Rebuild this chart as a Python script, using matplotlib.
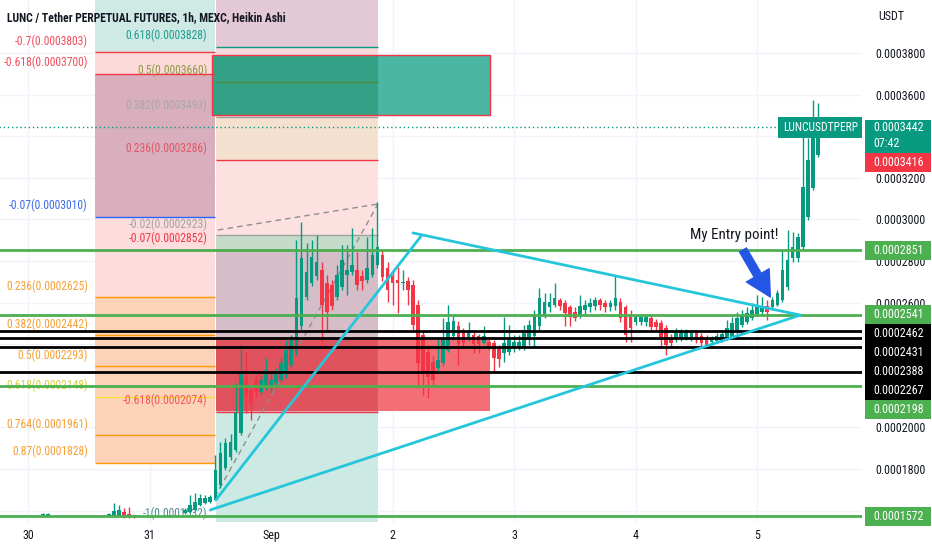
import numpy as np
import matplotlib
matplotlib.use("Agg")
import matplotlib.pyplot as plt
from matplotlib import font_manager as fm
from matplotlib.patches import Rectangle
from matplotlib.transforms import blended_transform_factory

U = 1e-7  # all price values below are in units of 0.0000001 USDT

# ---------------- data (hourly Heikin Ashi candles, hours from 30 Aug 00:00) ----------------
candle_hours = [3, 4, 16, 17, 18, 19, 20, 21] + list(range(31, 157))
opens = [1574, 1574, 1574, 1569, 1569, 1593, 1584, 1579,
         1589, 1593, 1603, 1627, 1637, 1641, 1651, 1723, 1805, 1857,
         1891, 1973, 2243, 2180, 2228, 2170, 2194, 2194, 2214, 2228,
         2252, 2300, 2358, 2487, 2627, 2694, 2728, 2757, 2694, 2685,
         2627, 2675, 2733, 2747, 2757, 2728, 2709, 2733, 2781, 2829,
         2766, 2728, 2709, 2694, 2704, 2685, 2588, 2444, 2362, 2315,
         2286, 2310, 2372, 2439, 2487, 2454, 2430, 2444, 2439, 2406,
         2410, 2406, 2386, 2358, 2362, 2382, 2382, 2386, 2420, 2439,
         2487, 2540, 2579, 2588, 2612, 2598, 2579, 2554, 2540, 2564,
         2579, 2583, 2612, 2598, 2579, 2583, 2603, 2579, 2540, 2506,
         2506, 2506, 2526, 2506, 2502, 2478, 2434, 2430, 2430, 2430,
         2430, 2454, 2439, 2430, 2410, 2415, 2420, 2430, 2434, 2458,
         2492, 2506, 2526, 2545, 2554, 2583, 2579, 2588, 2612, 2675,
         2815, 2815, 2867, 3011, 3151, 3309]
highs = [1589, 1589, 1589, 1637, 1627, 1613, 1617, 1579,
         1613, 1675, 1685, 1680, 1675, 1675, 1867, 1929, 1949, 1968,
         2214, 2396, 2362, 2204, 2252, 2252, 2334, 2267, 2286, 2334,
         2420, 2444, 2901, 2987, 2886, 2901, 2925, 2795, 2733, 2709,
         2781, 2877, 2877, 2959, 2843, 2757, 2915, 2959, 3083, 2853,
         2795, 2757, 2771, 2757, 2723, 2709, 2612, 2468, 2396, 2348,
         2430, 2526, 2588, 2540, 2511, 2478, 2506, 2459, 2449, 2487,
         2420, 2420, 2396, 2530, 2492, 2444, 2444, 2492, 2516, 2564,
         2670, 2646, 2646, 2694, 2622, 2612, 2588, 2579, 2636, 2612,
         2622, 2627, 2622, 2612, 2612, 2728, 2622, 2588, 2564, 2540,
         2545, 2545, 2540, 2521, 2516, 2492, 2449, 2478, 2473, 2473,
         2468, 2468, 2454, 2444, 2439, 2454, 2468, 2516, 2530, 2554,
         2564, 2579, 2598, 2636, 2627, 2612, 2627, 2660, 2853, 2949,
         2939, 2934, 3396, 3392, 3574, 3560]
lows = [1569, 1569, 1569, 1569, 1569, 1564, 1564, 1564,
        1584, 1589, 1598, 1622, 1632, 1637, 1651, 1709, 1795, 1843,
        1881, 1963, 2069, 2035, 2141, 2156, 2180, 2170, 2204, 2218,
        2238, 2286, 2348, 2468, 2612, 2680, 2709, 2382, 2468, 2564,
        2612, 2660, 2636, 2733, 2660, 2660, 2694, 2723, 2766, 2704,
        2603, 2588, 2550, 2660, 2588, 2468, 2189, 2156, 2141, 2204,
        2267, 2295, 2362, 2420, 2300, 2382, 2415, 2358, 2358, 2401,
        2372, 2262, 2291, 2315, 2348, 2362, 2372, 2372, 2396, 2386,
        2468, 2526, 2554, 2579, 2564, 2487, 2487, 2511, 2526, 2545,
        2554, 2564, 2564, 2554, 2559, 2564, 2506, 2410, 2410, 2492,
        2492, 2487, 2468, 2459, 2386, 2348, 2386, 2410, 2415, 2420,
        2415, 2406, 2391, 2382, 2396, 2406, 2410, 2420, 2430, 2449,
        2482, 2497, 2516, 2535, 2545, 2516, 2564, 2583, 2603, 2660,
        2795, 2795, 2853, 2997, 3141, 3300]
closes = [1584, 1584, 1584, 1598, 1603, 1569, 1569, 1569,
          1603, 1627, 1641, 1661, 1661, 1666, 1795, 1877, 1925, 1929,
          2069, 2262, 2156, 2117, 2170, 2228, 2276, 2228, 2267, 2310,
          2372, 2420, 2622, 2815, 2747, 2819, 2795, 2588, 2554, 2583,
          2733, 2805, 2757, 2781, 2685, 2704, 2766, 2829, 2867, 2723,
          2660, 2694, 2694, 2699, 2660, 2492, 2310, 2262, 2243, 2228,
          2324, 2430, 2506, 2511, 2401, 2406, 2454, 2401, 2401, 2439,
          2386, 2334, 2329, 2406, 2420, 2410, 2410, 2468, 2492, 2540,
          2622, 2603, 2603, 2622, 2583, 2550, 2530, 2526, 2583, 2588,
          2598, 2612, 2588, 2579, 2598, 2622, 2526, 2444, 2478, 2530,
          2530, 2530, 2482, 2482, 2434, 2396, 2406, 2454, 2459, 2459,
          2454, 2420, 2406, 2396, 2430, 2439, 2449, 2478, 2502, 2526,
          2535, 2550, 2564, 2583, 2583, 2554, 2612, 2646, 2757, 2805,
          2867, 2915, 3155, 3285, 3396, 3442]

day_ticks = [0, 24, 48, 72, 96, 120, 144]
day_labels = ["30", "31", "Sep", "2", "3", "4", "5"]
price_ticks = [1600, 1800, 2000, 2200, 2400, 2600, 2800, 3000, 3200, 3400, 3600, 3800]
hidden_ticks = [2200, 2400, 3400]  # covered by the price-axis tags in the reference

# Fibonacci tool A (left) and B (middle)
fibA_span = (13.2, 36.9)
fibA_ratios = ["-0.7", "-0.618", "-0.07", "0.236", "0.382", "0.5", "0.618", "0.764", "0.87"]
fibA_prices = [3803, 3700, 3010, 2625, 2442, 2293, 2148, 1961, 1828]
fibA_colors = ["#f23645", "#f23645", "#2962ff", "#ff9800", "#ff9800", "#ff9800", "#f2e23a", "#ff9800", "#ff9800"]
fibA_text = ["#ef4f5e", "#ef4f5e", "#3d6be8", "#f5a033", "#f5a033", "#f5a033", "#d8cf3c", "#f5a033", "#f5a033"]

fibB_span = (37.1, 69.1)
fibB_ratios = ["0.618", "0.5", "0.382", "0.236", "-0.02", "-0.07", "-0.618", "-1"]
fibB_prices = [3828, 3660, 3493, 3286, 2923, 2852, 2074, 1532]
fibB_colors = ["#089981", "#4f8a3a", "#a0a0a0", "#f23645", "#a0a0a0", "#f23645", "#f23645", "#4a8a8a"]
fibB_text = ["#1e9e8a", "#8a9a40", "#a8a8a8", "#e0566a", "#a3a3a3", "#f23645", "#f0585e", "#4f8a8e"]

green_box = dict(hours=(36.3, 91.3), prices=(3500, 3790))
red_box = dict(hours=(37.1, 91.3), prices=(2078, 2420))

green_levels = [2851, 2541, 2198, 1572]
black_levels = [2462, 2431, 2388, 2267]

rise1 = ([37.1, 77.8], [1651, 2925])
fall1 = ([76.0, 152.5], [2935, 2540])
rise2 = ([36.0, 152.5], [1603, 2540])
dash1 = ([37.5, 69.1], [2949, 3074])
dash2 = ([36.9, 69.1], [1665, 3074])

arrow_tail = (141.2, 2853)
arrow_head = (146.6, 2627)
note_pos = (139.5, 2925)
note_text = "My Entry point!"

last_price = 3442
prev_price = 3416
countdown = "07:42"
symbol = "LUNCUSDTPERP"
title = "LUNC / Tether PERPETUAL FUTURES, 1h, MEXC, Heikin Ashi"

# ---------------- fonts ----------------
names = {f.name for f in fm.fontManager.ttflist}
FONT, FACT = "Liberation Sans", 1.0
for cand, fac in [("Roboto Condensed", 0.88), ("Liberation Sans Narrow", 0.82)]:
    if cand in names:
        FONT, FACT = cand, fac
        break
plt.rcParams["font.family"] = [FONT, "DejaVu Sans"]


def fs(x):
    return x / FACT


TXT = "#131722"

# ---------------- figure ----------------
fig = plt.figure(figsize=(9.32, 5.5), dpi=100)
fig.patch.set_facecolor("white")
ax = fig.add_axes([0, 28 / 550, 862 / 932, 522 / 550])
ax.set_facecolor("white")
YLO, YHI = 1545, 4055
ax.set_xlim(-5.53, 164.7)
ax.set_ylim(YLO * U, YHI * U)
for s in ax.spines.values():
    s.set_visible(False)
PPX = (YHI - YLO) / 522.0  # price units per pixel

for t in price_ticks:
    ax.axhline(t * U, color="#f0f3fa", lw=1, zorder=0.2)
for d in day_ticks:
    ax.axvline(d, color="#f0f3fa", lw=1, zorder=0.2)


def zone(h0, h1, p0, p1, color, z=0.5):
    ax.add_patch(Rectangle((h0, p0 * U), h1 - h0, (p1 - p0) * U,
                           facecolor=color, edgecolor="none", zorder=z))


a0, a1 = fibA_span
zone(a0, a1, fibA_prices[0], 4300, "#cfe9e5")
zone(a0, a1, fibA_prices[1], fibA_prices[0], "#fcdada")
zone(a0, a1, fibA_prices[2], fibA_prices[1], "#d9aebd")
zone(a0, a1, fibA_prices[3], fibA_prices[2], "#fcdcdc")
zone(a0, a1, fibA_prices[8], fibA_prices[3], "#fcd3b9")

b0, b1 = fibB_span
zone(b0, b1, fibB_prices[0], 4300, "#e3c9d5")
zone(b0, b1, fibB_prices[1], fibB_prices[0], "#f6d9dc")
zone(b0, b1, fibB_prices[2], fibB_prices[1], "#e6d3cf")
zone(b0, b1, fibB_prices[3], fibB_prices[2], "#f4e0cf")
zone(b0, b1, fibB_prices[4], fibB_prices[3], "#fde0e0")
zone(b0, b1, fibB_prices[5], fibB_prices[4], "#c7dbca")
zone(b0, b1, fibB_prices[6], fibB_prices[5], "#d6bec8")
zone(b0, b1, fibB_prices[7], fibB_prices[6], "#cde9e4")

gh, gp = green_box["hours"], green_box["prices"]
zone(gh[0], b1, gp[0], gp[1], "#33a185", z=1)
zone(b1, gh[1], gp[0], gp[1], "#4bb6a1", z=1)
ax.add_patch(Rectangle((gh[0], gp[0] * U), gh[1] - gh[0], (gp[1] - gp[0]) * U,
                       fill=False, edgecolor="#f23645", lw=1, zorder=1.2))
rh, rp = red_box["hours"], red_box["prices"]
zone(rh[0], b1, rp[0], rp[1], "#e0525e", z=1)
zone(b1, rh[1], rp[0], rp[1], "#f26f77", z=1)

# fib lines and labels
for r, p, c, tc in zip(fibA_ratios, fibA_prices, fibA_colors, fibA_text):
    ax.hlines(p * U, a0, a1, colors=c, lw=1, zorder=1.5)
    ax.annotate(f"{r}({p * U:.7f})", xy=(11.8, p * U), xytext=(0, 3.5),
                textcoords="offset points", ha="right", va="bottom",
                color=tc, fontsize=fs(7.4), zorder=2, annotation_clip=False)
for r, p, c, tc in zip(fibB_ratios, fibB_prices, fibB_colors, fibB_text):
    ax.hlines(p * U, b0, b1, colors=c, lw=1, zorder=1.5)
    ax.annotate(f"{r}({p * U:.7f})", xy=(35.4, p * U), xytext=(0, 3.5),
                textcoords="offset points", ha="right", va="bottom",
                color=tc, fontsize=fs(7.4), zorder=2, annotation_clip=False)

for xs, ys in (dash1, dash2):
    ax.plot(xs, np.array(ys) * U, ls=(0, (4, 3)), color="#8f8f8f", lw=1, zorder=2)

# candles
hrs = np.array(candle_hours, dtype=float)
o = np.array(opens) * U
h = np.array(highs) * U
l = np.array(lows) * U
c = np.array(closes) * U
up = c >= o
cols = np.where(up, "#089981", "#f23645")
ax.vlines(hrs, l, h, colors=cols, lw=1, zorder=3)
body_b = np.minimum(o, c)
body_h = np.maximum(np.abs(c - o), 1.5 * PPX * U)
ax.bar(hrs, body_h, bottom=body_b, width=0.72, color=cols, edgecolor="none", zorder=3.1)

# horizontal levels
for p in green_levels:
    ax.axhline(p * U, color="#4caf50", lw=2, zorder=4)
for p in black_levels:
    ax.axhline(p * U, color="#000000", lw=2, zorder=4)

# current price dotted line
ax.hlines(last_price * U, -6, 148.5, colors="#089981", lw=1, linestyles=(0, (1, 2)), zorder=4)

# triangle trendlines
for xs, ys in (rise1, fall1, rise2):
    ax.plot(xs, np.array(ys) * U, color="#26c6da", lw=2, zorder=5, solid_capstyle="round")

# entry arrow & note
ax.annotate("", xy=(arrow_head[0], arrow_head[1] * U), xytext=(arrow_tail[0], arrow_tail[1] * U),
            arrowprops=dict(arrowstyle="simple,head_length=1.0,head_width=1.05,tail_width=0.32",
                            color="#2456e6", mutation_scale=18, shrinkA=0, shrinkB=0), zorder=6)
ax.text(note_pos[0], note_pos[1] * U, note_text, ha="center", va="center",
        fontsize=fs(9.5), color=TXT, zorder=6)

# axes ticks
ax.set_xticks(day_ticks)
ax.set_xticklabels(day_labels)
ax.tick_params(axis="x", length=0, pad=5, labelsize=fs(7.6), labelcolor=TXT)
ax.yaxis.tick_right()
ax.set_yticks([t * U for t in price_ticks])
ax.set_yticklabels(["" if t in hidden_ticks else f"{t * U:.7f}" for t in price_ticks])
ax.tick_params(axis="y", length=0, pad=9.4, labelsize=fs(7.6), labelcolor=TXT)

# price axis boxes
bt = blended_transform_factory(ax.transAxes, ax.transData)
BX0, BW, TX = 865 / 862, 66 / 862, 873 / 862


def axis_box(center, up_px, down_px, color, lines, tcolor="white"):
    top = center + up_px * PPX
    bot = center - down_px * PPX
    ax.add_patch(Rectangle((BX0, bot * U), BW, (top - bot) * U, transform=bt,
                           facecolor=color, edgecolor="none", clip_on=False, zorder=10))
    for txt, off in lines:
        ax.text(TX, (center - off * PPX) * U, txt, transform=bt, ha="left", va="center",
                color=tcolor, fontsize=fs(7.6), clip_on=False, zorder=11)


levels = sorted([(p, "#4caf50") for p in green_levels] + [(p, "#000000") for p in black_levels],
                reverse=True)
prev_px = -1e9
for p, col in levels:
    px = max((YHI - p) / PPX, prev_px + 19)
    prev_px = px
    axis_box(YHI - px * PPX, 9.5, 9.5, col, [(f"{p * U:.7f}", 0)])

axis_box(last_price, 7.5, 25.5, "#089981", [(f"{last_price * U:.7f}", 0), (countdown, 16)])
pc = last_price - 35 * PPX
axis_box(pc, 9.5, 9.5, "#f23645", [(f"{prev_price * U:.7f}", 0)])

ax.text(1.0 - 4 / 862, last_price * U, symbol, transform=bt, ha="right", va="center",
        color="white", fontsize=fs(7.3), zorder=11,
        bbox=dict(boxstyle="square,pad=0.38", facecolor="#089981", edgecolor="none"))

fig.text(878 / 932, 1 - 16 / 550, "USDT", ha="left", va="center", fontsize=fs(7.6), color=TXT)
fig.text(7 / 932, 1 - 18 / 550, title, ha="left", va="center", fontsize=fs(7.4),
         color=TXT, weight="bold", zorder=20)

fig.savefig("out.png", dpi=100)
